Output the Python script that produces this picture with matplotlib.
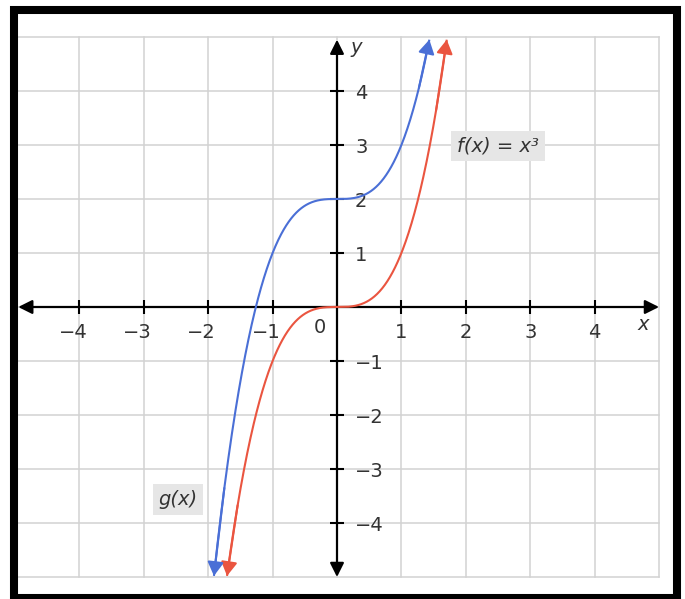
import numpy as np
import matplotlib.pyplot as plt
from matplotlib.patches import Rectangle

# graph of f(x) = x^3 and g(x) = x^3 + 2 on a -5..5 grid
x_ticks = [-4, -3, -2, -1, 1, 2, 3, 4]
y_ticks = [-4, -3, -2, -1, 1, 2, 3, 4]
grid_vals = [-5, -4, -3, -2, -1, 0, 1, 2, 3, 4, 5]
shift = 2
y_lo, y_hi = -4.98, 4.95

RED = '#ea5540'
BLUE = '#4a6fd6'
TXT = '#333333'
GRID = '#d2d2d2'

fig = plt.figure(figsize=(6.85, 5.99), dpi=100)
W, H = 685, 599
ax = fig.add_axes([15 / W, (H - 577) / H, 644 / W, 540 / H])
ax.set_xlim(-5, 5)
ax.set_ylim(-5, 5)
ax.axis('off')

# grid
for v in grid_vals:
    ax.plot([v, v], [-5, 5], color=GRID, lw=1.1, zorder=1, clip_on=False)
    ax.plot([-5, 5], [v, v], color=GRID, lw=1.1, zorder=1, clip_on=False)

# axes with arrows at both ends
arrow_kw = dict(arrowstyle='<|-|>,head_width=0.3,head_length=0.6', color='black',
                lw=1.6, mutation_scale=14, shrinkA=0, shrinkB=0)
ax.annotate('', xy=(5.0, 0), xytext=(-4.95, 0), arrowprops=arrow_kw, zorder=3)
ax.annotate('', xy=(0, 4.95), xytext=(0, -5.0), arrowprops=arrow_kw, zorder=3)

# tick crosses
ax.plot(x_ticks, [0] * len(x_ticks), ls='none', marker='|', ms=10, mew=1.5,
        color='black', zorder=3)
ax.plot([0] * len(y_ticks), y_ticks, ls='none', marker='_', ms=10, mew=1.5,
        color='black', zorder=3)

# tick labels
FS = 14
for t in x_ticks:
    label = str(t).replace('-', '\u2212')
    ax.text(t - (0.1 if t < 0 else 0), -0.47, label, fontsize=FS, color=TXT,
            ha='center', va='center')
for t in y_ticks:
    label = str(t).replace('-', '\u2212')
    ax.text(0.28, t - 0.05, label, fontsize=FS, color=TXT, ha='left', va='center')
ax.text(-0.26, -0.38, '0', fontsize=FS, color=TXT, ha='center', va='center')
ax.text(4.75, -0.33, 'x', fontsize=FS, color=TXT, style='italic',
        ha='center', va='center')
ax.text(0.3, 4.8, 'y', fontsize=FS, color=TXT, style='italic',
        ha='center', va='center')


def draw_curve(k, color):
    lo = np.cbrt(y_lo - k)
    hi = np.cbrt(y_hi - k)
    xs = np.linspace(lo, hi, 600)
    ys = xs ** 3 + k
    ax.plot(xs, ys, color=color, lw=1.5, zorder=4, solid_capstyle='butt')
    head = dict(arrowstyle='-|>,head_width=0.35,head_length=0.6', color=color,
                lw=1.5, mutation_scale=14, shrinkA=0, shrinkB=0)
    ax.annotate('', xy=(xs[-1], ys[-1]), xytext=(xs[-30], ys[-30]),
                arrowprops=head, zorder=5)
    ax.annotate('', xy=(xs[0], ys[0]), xytext=(xs[29], ys[29]),
                arrowprops=head, zorder=5)


draw_curve(0, RED)
draw_curve(shift, BLUE)

box = dict(boxstyle='square,pad=0.3', fc='#e6e6e6', ec='none')
ax.text(2.5, 2.98, 'f(x) = x\u00b3', fontsize=FS, color=TXT, style='italic',
        ha='center', va='center', bbox=box, zorder=6)
ax.text(-2.47, -3.57, 'g(x)', fontsize=FS, color=TXT, style='italic',
        ha='center', va='center', bbox=box, zorder=6)

# black picture frame
fig.patches.append(Rectangle((13.5 / W, 1 - 598 / H), 663 / W, 588.5 / H,
                             transform=fig.transFigure, fill=False,
                             ec='black', lw=5.8, zorder=10))

fig.savefig('out.png', dpi=100)
